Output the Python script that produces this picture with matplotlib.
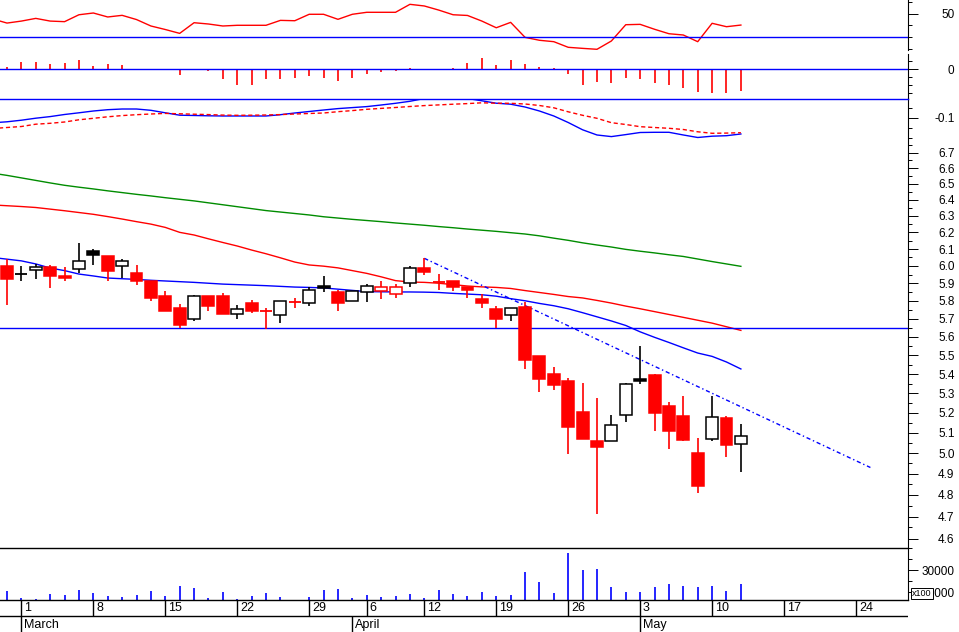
import numpy as np
import matplotlib
matplotlib.use('Agg')
import matplotlib.pyplot as plt
from matplotlib.ticker import FixedLocator, NullFormatter, FormatStrFormatter

plt.rcParams['font.family'] = ['Liberation Sans', 'DejaVu Sans']

# daily bars, Feb 26 .. May 12 (index 0 = Feb 26)
opens = [6.000, 5.953, 5.975, 5.994, 5.940, 5.980, 6.063, 6.059, 5.998, 5.959,
         5.912, 5.828, 5.759, 5.699, 5.828, 5.828, 5.727, 5.787, 5.743, 5.718,
         5.793, 5.790, 5.872, 5.850, 5.800, 5.852, 5.857, 5.840, 5.900, 5.986,
         5.909, 5.910, 5.881, 5.810, 5.753, 5.718, 5.763, 5.497, 5.399, 5.362,
         5.203, 5.058, 5.057, 5.188, 5.364, 5.393, 5.234, 5.183, 5.000, 5.070,
         5.175, 5.045]
highs = [6.040, 6.000, 6.010, 6.006, 5.994, 6.136, 6.100, 6.059, 6.040, 6.006,
         5.912, 5.856, 5.781, 5.833, 5.828, 5.845, 5.776, 5.804, 5.758, 5.798,
         5.815, 5.880, 5.940, 5.861, 5.855, 5.895, 5.912, 5.895, 6.000, 6.045,
         5.953, 5.910, 5.881, 5.838, 5.770, 5.757, 5.791, 5.497, 5.435, 5.382,
         5.352, 5.276, 5.190, 5.355, 5.549, 5.403, 5.254, 5.286, 5.074, 5.286,
         5.186, 5.142]
lows = [5.775, 5.910, 5.925, 5.870, 5.910, 5.957, 6.008, 5.910, 5.930, 5.890,
        5.800, 5.743, 5.650, 5.688, 5.741, 5.725, 5.700, 5.733, 5.641, 5.676,
        5.759, 5.770, 5.850, 5.743, 5.800, 5.795, 5.810, 5.815, 5.880, 5.946,
        5.863, 5.857, 5.817, 5.762, 5.650, 5.688, 5.428, 5.307, 5.316, 4.997,
        5.069, 4.710, 5.057, 5.156, 5.350, 5.107, 5.018, 5.060, 4.809, 5.060,
        4.980, 4.907]
closes = [5.926, 5.953, 5.993, 5.943, 5.930, 6.027, 6.091, 5.973, 6.027, 5.915,
          5.817, 5.743, 5.663, 5.826, 5.770, 5.725, 5.753, 5.743, 5.743, 5.798,
          5.793, 5.861, 5.883, 5.790, 5.855, 5.886, 5.878, 5.878, 5.986, 5.963,
          5.909, 5.876, 5.864, 5.789, 5.699, 5.757, 5.476, 5.375, 5.343, 5.130,
          5.069, 5.030, 5.141, 5.350, 5.374, 5.200, 5.107, 5.066, 4.840, 5.177,
          5.039, 5.082]
# r = red filled, w = white/black, k = black filled, h = red hollow
styles = ('r k w r r w k r w r  r r r w r r w r r w  r w k r w w h h w r  '
          'r r r r r w r r r r  r r w w k r r r r w  r w').split()
volume = [11200, 4800, 3900, 8500, 7500, 12100, 9400, 6600, 5700, 7500,
          11200, 6600, 15700, 13900, 4800, 10300, 3900, 6600, 9400, 5700,
          2000, 5700, 12100, 13000, 4800, 7500, 5700, 6600, 8500, 4800,
          12100, 8500, 6600, 10300, 6600, 7500, 28500, 19400, 9400, 45700,
          30300, 31200, 14800, 10300, 10300, 14800, 17500, 15700, 14800, 15700,
          11200, 17500]
hist = [0.005, 0.018, 0.018, 0.0125, 0.015, 0.0225, 0.0075, 0.0125, 0.01, 0.001,
        0.001, 0.001, -0.015, -0.001, -0.005, -0.025, -0.04, -0.04, -0.025, -0.025,
        -0.0225, -0.0175, -0.0225, -0.03, -0.0225, -0.0125, -0.0075, -0.005, 0.0025, 0.001,
        0.001, 0.0025, 0.015, 0.0275, 0.01, 0.0225, 0.0125, 0.005, 0.0025, -0.0125,
        -0.04, -0.032, -0.034, -0.0225, -0.025, -0.035, -0.04, -0.0475, -0.057, -0.059,
        -0.059, -0.054]

# indicator lines start one bar earlier (index -1)
ma_short = [6.050, 6.040, 6.030, 6.012, 5.988, 5.973, 5.953, 5.942, 5.930, 5.926,
            5.922, 5.917, 5.913, 5.909, 5.905, 5.900, 5.895, 5.892, 5.889, 5.886,
            5.882, 5.878, 5.876, 5.873, 5.866, 5.859, 5.852, 5.851, 5.850, 5.850,
            5.849, 5.847, 5.842, 5.838, 5.834, 5.826, 5.812, 5.800, 5.785, 5.772,
            5.755, 5.733, 5.710, 5.687, 5.662, 5.627, 5.597, 5.569, 5.540, 5.512,
            5.494, 5.464, 5.427]
ma_mid = [6.368, 6.363, 6.358, 6.352, 6.342, 6.332, 6.321, 6.310, 6.296, 6.281,
          6.265, 6.250, 6.230, 6.200, 6.184, 6.161, 6.139, 6.118, 6.094, 6.072,
          6.048, 6.023, 6.006, 5.999, 5.989, 5.973, 5.957, 5.937, 5.915, 5.907,
          5.905, 5.900, 5.892, 5.884, 5.879, 5.876, 5.870, 5.858, 5.847, 5.836,
          5.824, 5.816, 5.802, 5.787, 5.770, 5.755, 5.739, 5.723, 5.707, 5.691,
          5.675, 5.655, 5.635]
ma_long = [6.568, 6.554, 6.538, 6.522, 6.506, 6.491, 6.479, 6.468, 6.456, 6.445,
           6.434, 6.424, 6.413, 6.403, 6.393, 6.381, 6.369, 6.357, 6.345, 6.333,
           6.324, 6.315, 6.306, 6.295, 6.287, 6.279, 6.272, 6.265, 6.257, 6.250,
           6.243, 6.235, 6.228, 6.220, 6.213, 6.206, 6.198, 6.190, 6.179, 6.165,
           6.152, 6.137, 6.124, 6.112, 6.098, 6.087, 6.077, 6.066, 6.056, 6.041,
           6.026, 6.012, 5.998]
rsi = [45.5, 42.0, 43.7, 46.0, 43.7, 43.2, 49.1, 50.6, 47.2, 48.6,
       45.0, 39.5, 36.5, 33.2, 42.3, 41.2, 39.5, 40.1, 40.1, 40.1,
       44.3, 44.0, 49.5, 49.5, 45.2, 49.5, 51.2, 51.2, 51.2, 58.0,
       56.6, 53.1, 49.1, 48.5, 43.7, 38.0, 42.6, 29.8, 27.3, 26.1,
       21.3, 20.4, 19.6, 26.7, 40.6, 40.9, 36.7, 32.9, 31.8, 26.1,
       41.8, 38.9, 40.3]
dif = [-0.1235, -0.1186, -0.1108, -0.1010, -0.0931, -0.0828, -0.0745, -0.0657, -0.0593, -0.0559,
       -0.0559, -0.0623, -0.0745, -0.0863, -0.0877, -0.0892, -0.0902, -0.0902, -0.0902, -0.0902,
       -0.0838, -0.0755, -0.0681, -0.0608, -0.0539, -0.0490, -0.0441, -0.0363, -0.0279, -0.0181,
       -0.0044, -0.0020, -0.0020, -0.0044, -0.0157, -0.0275, -0.0324, -0.0461, -0.0657, -0.0902,
       -0.1221, -0.1578, -0.1833, -0.1912, -0.1814, -0.1711, -0.1701, -0.1701, -0.1833, -0.1956,
       -0.1892, -0.1868, -0.1784]
dea = [-0.1515, -0.1466, -0.1417, -0.1304, -0.1260, -0.1196, -0.1088, -0.1015, -0.0941, -0.0882,
       -0.0838, -0.0804, -0.0775, -0.0794, -0.0814, -0.0833, -0.0858, -0.0868, -0.0863, -0.0853,
       -0.0833, -0.0804, -0.0779, -0.0755, -0.0691, -0.0637, -0.0574, -0.0529, -0.0485, -0.0436,
       -0.0392, -0.0358, -0.0324, -0.0294, -0.0255, -0.0275, -0.0279, -0.0314, -0.0387, -0.0500,
       -0.0696, -0.0868, -0.1015, -0.1230, -0.1319, -0.1426, -0.1466, -0.1505, -0.1564, -0.1676,
       -0.1750, -0.1740, -0.1721]

trend_x = [29, 60]
trend_y = [6.045, 4.93]
support = 5.65

day_ticks = [1, 6, 11, 16, 21, 25, 29, 34, 39, 44, 49, 54, 59]
day_labels = ['1', '8', '15', '22', '29', '6', '12', '19', '26', '3', '10', '17', '24']
month_ticks = [1, 24, 44]
month_labels = ['March', 'April', 'May']

RED = '#ff0000'
BLUE = '#0000ff'
GREEN = '#008c00'
FS = 8.5

W, H = 959, 632
fig = plt.figure(figsize=(W / 100, H / 100), dpi=100)
XL = (-7 / 14.39, 901 / 14.39)


def panel(top, bottom):
    ax = fig.add_axes([0, 1 - bottom / H, 908 / W, (bottom - top) / H])
    ax.set_xlim(*XL)
    for s in ['left', 'top', 'bottom']:
        ax.spines[s].set_visible(False)
    ax.spines['right'].set_linewidth(0.8)
    ax.yaxis.tick_right()
    ax.tick_params(axis='x', bottom=False, labelbottom=False)
    ax.tick_params(axis='y', which='major', length=7, width=0.7, labelsize=FS, pad=26.5)
    ax.tick_params(axis='y', which='minor', length=3, width=0.7)
    return ax


def set_ticks(ax, major, minor, fmt='%g'):
    ax.yaxis.set_major_locator(FixedLocator(major))
    ax.yaxis.set_minor_locator(FixedLocator(minor))
    ax.yaxis.set_major_formatter(FormatStrFormatter(fmt))
    ax.yaxis.set_minor_formatter(NullFormatter())
    for lab in ax.get_yticklabels():
        lab.set_horizontalalignment('right')


xs = np.arange(-1, len(opens))
xb = np.arange(len(opens))

# RSI
ax1 = panel(0, 50)
ax1.plot(xs, rsi, color=RED, lw=1)
ax1.axhline(30, color=BLUE, lw=1)
ax1.set_ylim(19.0, 61.7)
set_ticks(ax1, [50], [20, 30, 40, 60])

# histogram
ax2 = panel(54, 98.5)
ax2.vlines(xb, 0, hist, color=RED, lw=1.2)
ax2.axhline(0, color=BLUE, lw=1)
ax2.set_ylim(-0.07375, 0.0375)
set_ticks(ax2, [0], [-0.06, -0.04, -0.02, 0.02])

# MACD lines
ax3 = panel(98.5, 145)
ax3.plot(xs, dif, color=BLUE, lw=1)
ax3.plot(xs, dea, color=RED, lw=1, linestyle=(0, (3, 2)))
ax3.spines['top'].set_visible(True)
ax3.spines['top'].set_color(BLUE)
ax3.spines['top'].set_linewidth(1)
ax3.set_ylim(-0.2324, -0.0044)
set_ticks(ax3, [-0.1], [-0.05, -0.15, -0.2])

# price
ax = panel(145, 548)
ax.set_yscale('log')
ax.set_ylim(4.558, 6.751)
ax.set_xlim(*XL)
ax.plot(xs, ma_long, color=GREEN, lw=1)
ax.plot(xs, ma_mid, color=RED, lw=1)
ax.plot(xs, ma_short, color=BLUE, lw=1)
ax.axhline(support, color=BLUE, lw=1)
ax.plot(trend_x, trend_y, color=BLUE, lw=1, linestyle=(0, (3, 2, 1, 2)))
faces = {'r': RED, 'h': 'white', 'w': 'white', 'k': 'black'}
for i in xb:
    st = styles[i]
    edge = RED if st in ('r', 'h') else 'black'
    ax.vlines(i, lows[i], highs[i], color=edge, lw=1.2, zorder=3)
    lo, hi = sorted((opens[i], closes[i]))
    if hi - lo < 1e-9:
        ax.hlines(lo, i - 0.42, i + 0.42, color=edge, lw=1.3, zorder=4)
    else:
        ax.bar(i, hi - lo, bottom=lo, width=0.83, color=faces[st],
               edgecolor=edge, lw=1.1, zorder=4)
major = [round(4.6 + 0.1 * j, 1) for j in range(22)]
minor = [round(4.55 + 0.1 * j, 2) for j in range(23)]
set_ticks(ax, major, minor, '%.1f')

# volume
ax5 = panel(548, 600)
ax5.vlines(xb, 0, volume, color=BLUE, lw=1.2)
ax5.spines['top'].set_visible(True)
ax5.spines['top'].set_linewidth(1)
ax5.set_ylim(3000, 50270)
set_ticks(ax5, [10000, 30000], [20000, 40000, 50000])
fig.text(922 / W, 1 - 593.5 / H, 'x100', fontsize=6.5, ha='center', va='center',
         bbox=dict(boxstyle='square,pad=0.15', fc='white', ec='black', lw=0.7))

# date rows
axd = fig.add_axes([0, 0, 908 / W, 32 / H])
axd.set_xlim(*XL)
axd.set_ylim(0, 2)
axd.axis('off')
axd.axhline(2, color='black', lw=1, clip_on=False)
axd.axhline(1, color='black', lw=1)
axd.vlines(day_ticks, 1, 2, color='black', lw=1)
axd.vlines(month_ticks, 0, 1, color='black', lw=1)
for t, lab in zip(day_ticks, day_labels):
    axd.text(t + 0.2, 1.48, lab, fontsize=FS + 0.5, ha='left', va='center')
for t, lab in zip(month_ticks, month_labels):
    axd.text(t + 0.2, 0.42, lab, fontsize=FS + 0.5, ha='left', va='center')

fig.savefig('out.png', dpi=100)
